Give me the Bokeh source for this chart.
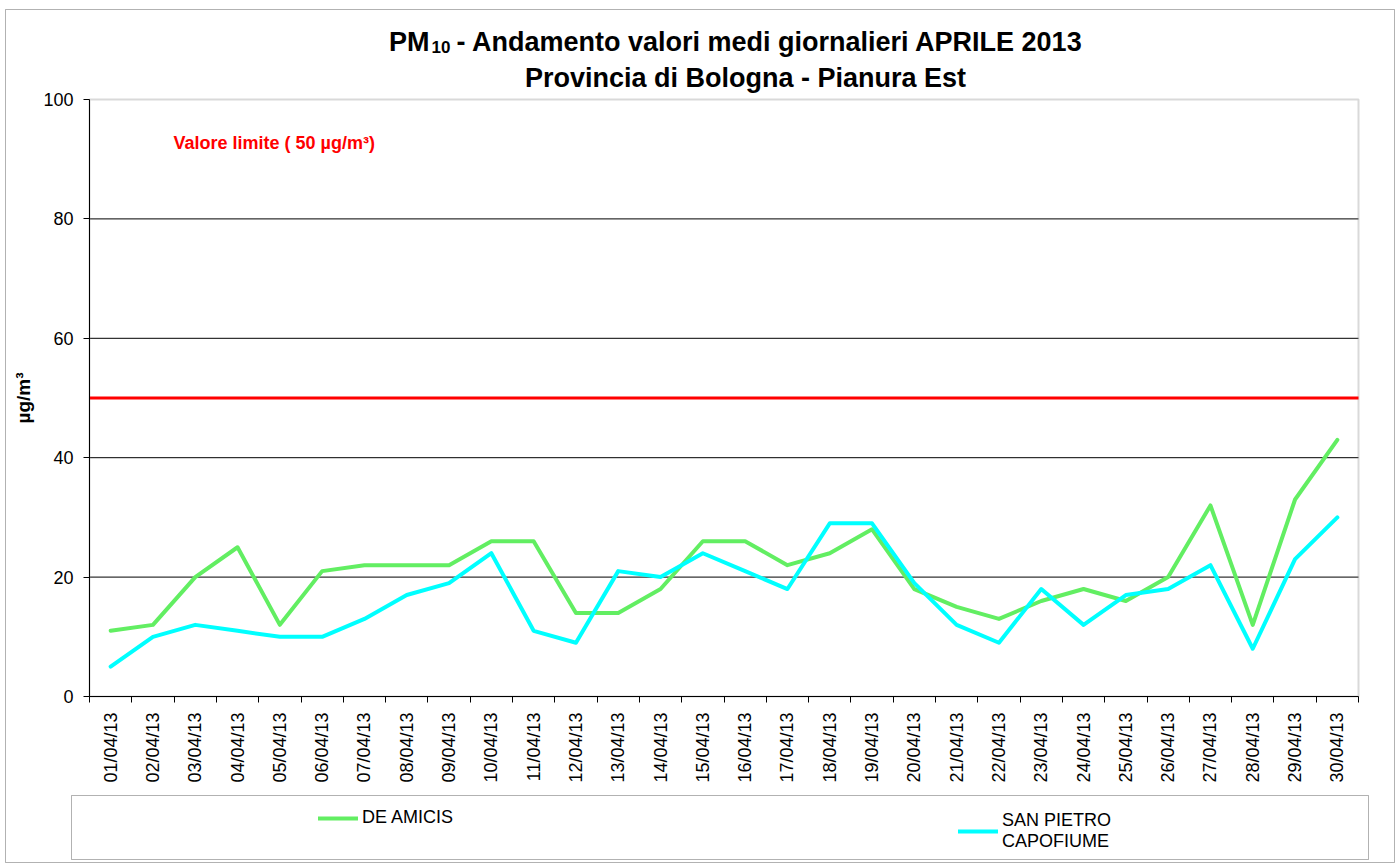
import math
from bokeh.plotting import figure
from bokeh.models import (Range1d, FixedTicker, Label, Legend, LegendItem,
                          BoxAnnotation)
from bokeh.embed import file_html
from bokeh.resources import INLINE

# ---------------- data ----------------
dates = ["01/04/13", "02/04/13", "03/04/13", "04/04/13", "05/04/13", "06/04/13",
         "07/04/13", "08/04/13", "09/04/13", "10/04/13", "11/04/13", "12/04/13",
         "13/04/13", "14/04/13", "15/04/13", "16/04/13", "17/04/13", "18/04/13",
         "19/04/13", "20/04/13", "21/04/13", "22/04/13", "23/04/13", "24/04/13",
         "25/04/13", "26/04/13", "27/04/13", "28/04/13", "29/04/13", "30/04/13"]
de_amicis = [11, 12, 20, 25, 12, 21, 22, 22, 22, 26, 26, 14, 14, 18, 26,
             26, 22, 24, 28, 18, 15, 13, 16, 18, 16, 20, 32, 12, 33, 43]
san_pietro = [5, 10, 12, 11, 10, 10, 13, 17, 19, 24, 11, 9, 21, 20, 24,
              21, 18, 29, 29, 19, 12, 9, 18, 12, 17, 18, 22, 8, 23, 30]
series_names = ["DE AMICIS", "SAN PIETRO\nCAPOFIUME"]
y_ticks = [0, 20, 40, 60, 80, 100]
grid_ticks = [20, 40, 60, 80]
y_min, y_max = 0, 100
limit_value = 50
limit_text = "Valore limite  ( 50 µg/m³)"
title_1_main = "PM"
title_1_sub = "10"
title_1_rest = "- Andamento valori medi giornalieri APRILE 2013"
title_2 = "Provincia di Bologna - Pianura Est"
y_label = "µg/m³"

# ---------------- style / geometry (pixels) ----------------
FONT = "Liberation Sans"
GREEN = "#62EE62"
CYAN = "#00FFFF"
W, H = 1398, 866
PX_LEFT, PX_RIGHT, PX_TOP, PX_BOTTOM = 89, 1358, 99, 696

n = len(dates)
DX = (PX_RIGHT - PX_LEFT) / n
DY = (PX_BOTTOM - PX_TOP) / (y_max - y_min)


def px2x(px):
    return (px - PX_LEFT) / DX


def py2y(py):
    return y_min + (PX_BOTTOM - py) / DY


xs = [i + 0.5 for i in range(n)]

p = figure(width=W, height=H, output_backend="svg", toolbar_location=None,
           x_range=Range1d(px2x(0), px2x(W)), y_range=Range1d(py2y(H), py2y(0)),
           min_border=0, background_fill_color="white",
           border_fill_color="white")
p.title.visible = False
p.outline_line_color = None

# x axis: labels at category centres, ticks at category boundaries
p.xaxis.fixed_location = y_min
p.xaxis.bounds = (0, n)
p.xaxis.ticker = FixedTicker(ticks=xs, minor_ticks=list(range(n + 1)))
p.xaxis.major_label_overrides = {xv: d for xv, d in zip(xs, dates)}
p.xaxis.major_label_orientation = math.pi / 2
p.xaxis.major_tick_out = 0
p.xaxis.major_tick_in = 0
p.xaxis.minor_tick_out = 6
p.xaxis.minor_tick_in = 0
p.xaxis.minor_tick_line_color = "black"
p.xaxis.major_label_standoff = 10
p.xaxis.major_label_text_font = FONT
p.xaxis.major_label_text_font_size = "18px"
p.xaxis.major_label_text_color = "black"
p.xaxis.axis_line_color = "black"

# y axis
p.yaxis.fixed_location = 0
p.yaxis.bounds = (y_min, y_max)
p.yaxis.ticker = FixedTicker(ticks=y_ticks)
p.yaxis.major_tick_out = 6
p.yaxis.major_tick_in = 0
p.yaxis.minor_tick_out = 0
p.yaxis.minor_tick_in = 0
p.yaxis.major_label_standoff = 10
p.yaxis.major_label_text_font = FONT
p.yaxis.major_label_text_font_size = "18px"
p.yaxis.major_label_text_color = "black"
p.yaxis.axis_line_color = "black"
p.yaxis.major_tick_line_color = "black"
p.yaxis.axis_label = y_label
p.yaxis.axis_label_text_font = FONT
p.yaxis.axis_label_text_font_size = "19px"
p.yaxis.axis_label_text_font_style = "bold"
p.yaxis.axis_label_text_color = "black"
p.yaxis.axis_label_standoff = 6

# horizontal grid lines limited to the plot area
p.xgrid.visible = False
p.ygrid.visible = False
p.segment(x0=[0] * len(grid_ticks), y0=grid_ticks,
          x1=[n] * len(grid_ticks), y1=grid_ticks,
          line_color="black", line_width=1, level="underlay")

# plot-area border (grey) under the axes
p.add_layout(BoxAnnotation(left=0, right=n, bottom=y_min, top=y_max,
                           fill_alpha=0, line_color="#808080", line_width=2,
                           level="underlay"))

# limit line
p.line([0, n], [limit_value, limit_value], line_color="#FF0000", line_width=3)
p.add_layout(Label(x=px2x(173), y=py2y(142), text=limit_text,
                   text_color="#FF0000", text_font=FONT, text_font_size="18px",
                   text_font_style="bold", text_baseline="alphabetic",
                   text_align="left"))

# series
r1 = p.line(xs, de_amicis, line_color=GREEN, line_width=4,
            line_join="round", line_cap="round")
r2 = p.line(xs, san_pietro, line_color=CYAN, line_width=4,
            line_join="round", line_cap="round")

# titles
common = dict(text_font=FONT, text_font_style="bold", text_color="black",
              text_baseline="alphabetic")
p.add_layout(Label(x=px2x(429), y=py2y(41), text=title_1_main,
                   text_align="right", text_font_size="27px", **common))
p.add_layout(Label(x=px2x(431), y=py2y(46), text=title_1_sub,
                   text_align="left", text_font_size="17px", **common))
p.add_layout(Label(x=px2x(456), y=py2y(41), text=title_1_rest,
                   text_align="left", text_font_size="27px", **common))
p.add_layout(Label(x=px2x(745), y=py2y(77), text=title_2,
                   text_align="center", text_font_size="27px", **common))

# outer border and legend frame
p.add_layout(BoxAnnotation(left=px2x(5), right=px2x(1394), top=py2y(9),
                           bottom=py2y(862), fill_alpha=0, line_color="black",
                           line_width=1))
p.add_layout(BoxAnnotation(left=px2x(71), right=px2x(1368), top=py2y(795),
                           bottom=py2y(859), fill_alpha=0, line_color="black",
                           line_width=1))

leg_common = dict(orientation="vertical", padding=0, margin=0,
                  glyph_width=40, glyph_height=20, label_standoff=4,
                  label_text_font=FONT, label_text_font_size="18px",
                  label_text_color="black", border_line_color=None,
                  background_fill_alpha=0, label_text_line_height=1.3)
leg1 = Legend(items=[LegendItem(label=series_names[0], renderers=[r1])],
              location=(318, H - 828), **leg_common)
leg2 = Legend(items=[LegendItem(label=series_names[1], renderers=[r2])],
              location=(958, H - 852), **leg_common)
p.add_layout(leg1)
p.add_layout(leg2)

open("out.html", "w").write(file_html(p, INLINE))
